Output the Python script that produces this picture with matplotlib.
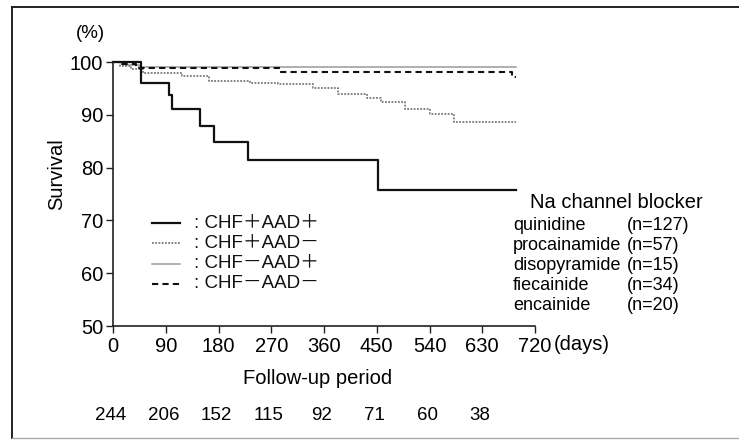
import matplotlib
matplotlib.use("Agg")
import matplotlib.pyplot as plt
from matplotlib.lines import Line2D

plt.rcParams['font.family'] = ['Liberation Sans', 'Noto Sans CJK JP', 'DejaVu Sans']

# Kaplan-Meier survival curves (days, % surviving)
days_chf_aad = [0, 47, 95, 101, 148, 172, 230, 452, 688]
surv_chf_aad = [100, 96.0, 93.8, 91.1, 87.8, 84.9, 81.5, 75.7, 75.7]

days_chf_noaad = [0, 12, 30, 52, 117, 163, 234, 282, 342, 384, 433, 458, 498, 541, 581, 688]
surv_chf_noaad = [100, 99.3, 98.6, 98.0, 97.3, 96.4, 96.1, 95.75, 95.0, 94.0, 93.2, 92.4, 91.05, 90.2, 88.6, 88.6]

days_nochf_aad = [0, 20, 45, 688]
surv_nochf_aad = [100, 99.5, 99.1, 99.1]

days_nochf_noaad = [0, 15, 40, 285, 681, 688]
surv_nochf_noaad = [100, 99.6, 98.9, 98.2, 97.2, 97.2]

group_labels = [": CHF＋AAD＋", ": CHF＋AAD－", ": CHF－AAD＋", ": CHF－AAD－"]

x_ticks = [0, 90, 180, 270, 360, 450, 540, 630, 720]
y_ticks = [50, 60, 70, 80, 90, 100]
at_risk = [244, 206, 152, 115, 92, 71, 60, 38]

drugs = ["quinidine", "procainamide", "disopyramide", "fiecainide", "encainide"]
drug_n = ["(n=127)", "(n=57)", "(n=15)", "(n=34)", "(n=20)"]

W, H = 739, 441
fig = plt.figure(figsize=(W / 100, H / 100), dpi=100)
fig.patch.set_facecolor('white')

def fx(px):
    return px / W

def fy(py):
    return 1 - py / H

ax = fig.add_axes([fx(113), fy(326), (535 - 113) / W, (326 - 62) / H])

styles = [
    dict(color='#111111', lw=1.6, ls='-'),
    dict(color='#7a7a7a', lw=1.3, ls=(0, (1, 0.8))),
    dict(color='#9a9a9a', lw=1.1, ls='-'),
    dict(color='#111111', lw=1.5, ls=(0, (3, 2))),
]
series = [
    (days_chf_aad, surv_chf_aad),
    (days_chf_noaad, surv_chf_noaad),
    (days_nochf_aad, surv_nochf_aad),
    (days_nochf_noaad, surv_nochf_noaad),
]
# draw the lighter curves first so the black ones stay on top
for idx in [2, 1, 3, 0]:
    d, s = series[idx]
    ax.step(d, s, where='post', clip_on=False, **styles[idx])

ax.set_xlim(0, 720)
ax.set_ylim(50, 100)
ax.set_xticks(x_ticks)
ax.set_yticks(y_ticks)
ax.set_xticklabels([str(t) for t in x_ticks], fontsize=14.5)
ax.set_yticklabels([str(t) for t in y_ticks], fontsize=14.5)
ax.tick_params(axis='both', direction='out', length=5, width=1.0, color='#222222')
ax.tick_params(axis='x', pad=3)
ax.tick_params(axis='y', pad=2)
for side in ['top', 'right']:
    ax.spines[side].set_visible(False)
for side in ['left', 'bottom']:
    ax.spines[side].set_linewidth(1.2)
    ax.spines[side].set_color('#222222')
ax.set_facecolor('none')

# legend drawn inside the plot area
row_y = [223, 243, 264, 284]
for i, (lab, st) in enumerate(zip(group_labels, styles)):
    ya = (326 - row_y[i]) / 264
    ax.add_line(Line2D([(152 - 113) / 422, (180 - 113) / 422], [ya, ya],
                       transform=ax.transAxes, clip_on=False, **st))
    ax.text((194 - 113) / 422, ya, lab, transform=ax.transAxes,
            fontsize=13.5, va='center', ha='left', color='#111111')

# axis annotations
fig.text(fx(90), fy(34), "(%)", fontsize=13.5, ha='center', va='center')
fig.text(fx(57), fy(174), "Survival", fontsize=14.5, ha='center', va='center', rotation=90)
fig.text(fx(554), fy(344), "(days)", fontsize=14.5, ha='left', va='center')
fig.text(fx(318), fy(379), "Follow-up period", fontsize=14.5, ha='center', va='center')

# numbers at risk under each tick, nudged slightly left
risk_y = -(416 - 326) / 264
for t, n in zip(x_ticks, at_risk):
    ax.text(t - 4, risk_y, str(n), transform=ax.get_xaxis_transform(),
            fontsize=13.5, ha='center', va='center')

# drug list
fig.text(fx(616), fy(202), "Na channel blocker", fontsize=14.5, ha='center', va='center')
drug_rows = [225, 245, 265, 286, 306]
for name, n, yy in zip(drugs, drug_n, drug_rows):
    fig.text(fx(513), fy(yy), name, fontsize=13, ha='left', va='center')
    fig.text(fx(627), fy(yy), n, fontsize=13, ha='left', va='center')

# page frame
fig.add_artist(Line2D([fx(12), fx(739)], [fy(7), fy(7)], color='#222222', lw=1.4))
fig.add_artist(Line2D([fx(12), fx(12)], [fy(7), fy(438)], color='#222222', lw=1.4))
fig.add_artist(Line2D([fx(12), fx(739)], [fy(438), fy(438)], color='#aaaaaa', lw=1.0))

fig.savefig("out.png", dpi=100)
